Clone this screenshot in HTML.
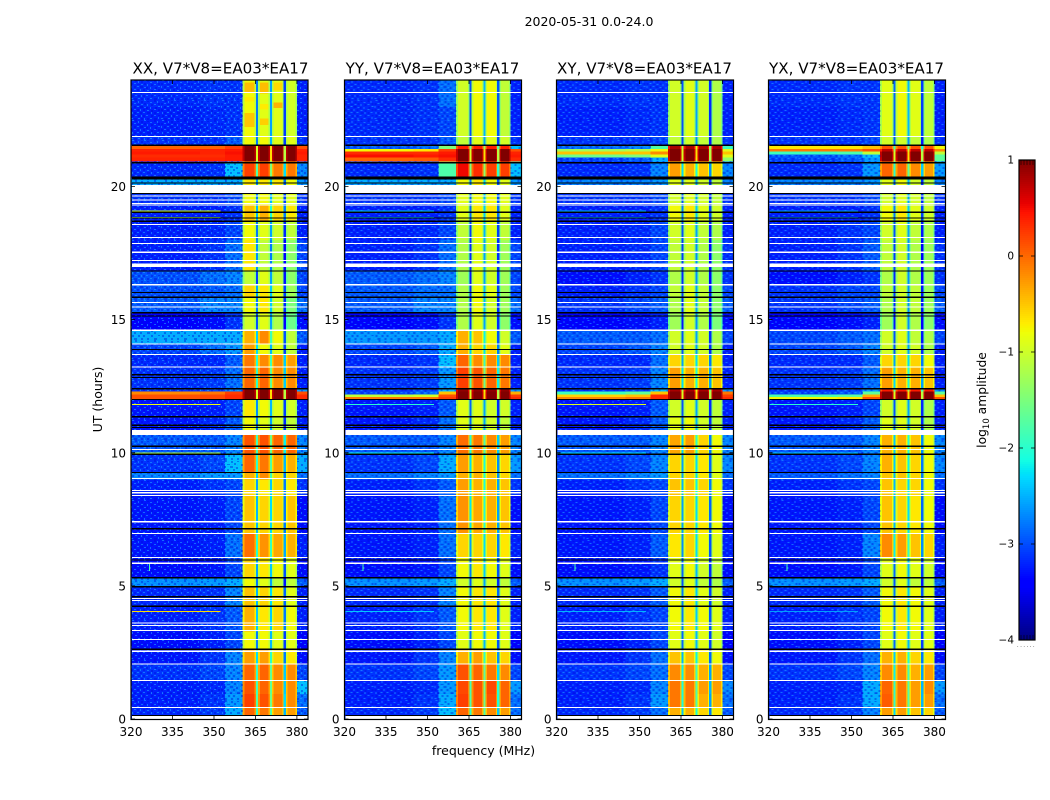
<!DOCTYPE html>
<html lang="en">
<head>
<meta charset="utf-8">
<title>2020-05-31 cross-power dynamic spectra</title>
<style>
  html, body { margin: 0; padding: 0; background: #fff; }
  svg { display: block; }
  text { font-family: "DejaVu Sans", "Liberation Sans", sans-serif; fill: #000; }
</style>
</head>
<body>
<svg id="figure" xmlns="http://www.w3.org/2000/svg" width="1050" height="800" viewBox="0 0 1050 800">
  <defs>
    <pattern id="speckle" width="30" height="20" patternUnits="userSpaceOnUse">
      <path fill="#20a0ff" opacity="0.6" d="M1 0h2v1h-2zM7 1h1v2h-1zM13 0h2v1h-2zM19 2h2v1h-2zM26 1h1v2h-1zM3 3h2v1h-2zM10 4h2v1h-2zM16 4h1v2h-1zM23 4h2v1h-2zM0 6h1v2h-1zM6 6h2v1h-2zM13 7h2v1h-2zM19 7h1v2h-1zM27 6h2v1h-2zM3 9h2v1h-2zM9 9h1v2h-1zM16 10h2v1h-2zM23 9h2v1h-2zM1 12h1v2h-1zM6 12h2v1h-2zM12 12h2v1h-2zM20 12h1v2h-1zM26 12h2v1h-2zM4 15h2v1h-2zM10 15h1v2h-1zM15 15h2v1h-2zM23 15h2v1h-2zM0 18h2v1h-2zM7 18h2v1h-2zM13 18h1v2h-1zM19 18h2v1h-2zM27 17h1v2h-1z"/>
      <path fill="#0008d8" opacity="0.4" d="M4 0h2v2h-2zM10 1h2v2h-2zM16 1h2v1h-2zM23 0h2v2h-2zM0 3h2v2h-2zM6 4h3v1h-3zM13 3h2v2h-2zM20 4h2v2h-2zM27 3h2v2h-2zM3 6h2v2h-2zM9 6h3v2h-3zM15 7h2v2h-2zM24 7h2v2h-2zM0 9h2v2h-2zM6 9h2v2h-2zM12 9h2v2h-2zM20 10h2v2h-2zM27 9h2v2h-2zM3 12h2v2h-2zM9 12h2v2h-2zM16 12h3v2h-3zM23 12h2v2h-2zM1 15h2v2h-2zM7 15h2v2h-2zM12 15h2v2h-2zM20 15h2v2h-2zM27 15h2v1h-2zM3 18h3v2h-3zM10 18h2v2h-2zM16 18h2v2h-2zM23 18h3v2h-3z"/>
    </pattern>
  </defs>
  <rect width="1050" height="800" fill="#fff"/>
  <text x="589" y="26" font-size="12.5" text-anchor="middle">2020-05-31 0.0-24.0</text>
  <g id="panels"></g>
  <text x="220.5" y="73.5" font-size="15.1" text-anchor="middle">XX, V7*V8=EA03*EA17</text>
  <text x="432.5" y="73.5" font-size="15.1" text-anchor="middle">YY, V7*V8=EA03*EA17</text>
  <text x="644.5" y="73.5" font-size="15.1" text-anchor="middle">XY, V7*V8=EA03*EA17</text>
  <text x="856.5" y="73.5" font-size="15.1" text-anchor="middle">YX, V7*V8=EA03*EA17</text>
  <text transform="translate(102,399.5) rotate(-90)" font-size="12.5" text-anchor="middle">UT (hours)</text>
  <text x="483.5" y="755" font-size="12.5" text-anchor="middle">frequency (MHz)</text>
  <g id="colorbar"></g>
  <text transform="translate(986,400) rotate(-90)" font-size="12.3" text-anchor="middle">log<tspan font-size="8.5" dy="3">10</tspan><tspan dy="-3"> amplitude</tspan></text>
  <text x="1017" y="647" font-size="5" letter-spacing="1.6" fill="#777">......</text>
</svg>
<script>
// Time bands (hours UT): consecutive edges, one row of levels per band.
const bandEdges = [0,0.45,0.95,1.45,2.07,2.6,3.3,4.24,4.97,5.31,6.07,7.0,8.4,9.0,9.26,10.0,10.7,11.35,12.0,12.1,12.2,12.32,12.41,13.2,13.7,14.09,14.6,15.26,15.84,16.31,16.83,18.0,18.7,19.3,19.74,20.3,20.89,20.95,21.1,21.22,21.33,21.42,21.55,21.88,23.0,24.0];

// log10 amplitude per band: [320-345, 345-354, 354-360, sideband 1, 2, 3, 4, 380-384 MHz]
const levelsXX = [
[-2.95,-2.85,-2.3,-0.1,-0.2,-0.4,-0.4,-2.7],[-3.0,-2.9,-2.4,0.1,0.0,-0.2,-0.3,-2.6],[-3.0,-2.95,-2.5,0.0,-0.1,-0.3,-0.3,-2.2],
[-2.9,-2.8,-2.5,-0.1,-0.1,-0.3,-0.3,-2.8],[-3.05,-2.9,-2.5,-0.4,-0.4,-0.7,-0.8,-3.1],[-3.1,-3.0,-2.8,-0.9,-0.9,-1.0,-1.0,-3.2],
[-3.0,-2.9,-2.7,-0.5,-0.8,-0.7,-0.9,-3.0],[-2.95,-2.9,-2.5,-0.6,-0.7,-0.8,-1.0,-3.0],[-2.45,-2.4,-2.3,-0.9,-1.0,-1.2,-1.2,-2.7],
[-3.1,-3.05,-2.8,-0.7,-0.8,-0.9,-1.0,-3.1],[-3.05,-3.0,-2.6,-0.15,-0.35,-0.45,-0.5,-3.0],[-3.05,-3.0,-2.8,-0.6,-0.7,-0.7,-0.6,-3.1],
[-3.0,-2.9,-2.8,-0.7,-0.8,-0.7,-0.8,-2.9],[-2.5,-2.4,-2.4,-0.5,-0.3,-0.7,-0.7,-2.6],[-2.9,-2.8,-2.2,-0.1,-0.2,-0.4,-0.5,-2.3],
[-2.7,-2.7,-2.5,0.0,0.0,-0.1,-0.1,-2.5],[-3.05,-2.95,-2.7,-0.9,-1.0,-1.1,-1.2,-3.0],[-3.05,-3.0,-2.8,-0.8,-0.9,-1.0,-1.1,-3.0],
[0.0,0.05,0.2,0.95,0.95,0.95,0.95,0.2],[0.0,0.05,0.2,0.95,0.95,0.95,0.95,0.2],[-0.3,-0.2,0.1,0.95,0.95,0.95,0.95,0.0],[-2.9,-2.8,-2.5,0.9,0.9,0.9,0.9,-2.4],
[-2.9,-2.85,-2.6,-0.1,-0.1,-0.3,-0.3,-3.0],[-2.95,-2.95,-2.7,-0.2,-0.3,-0.3,-0.4,-3.0],[-2.8,-2.6,-2.4,-0.4,-0.9,-1.0,-1.2,-3.0],
[-2.3,-2.3,-2.3,-0.5,-0.3,-0.9,-1.2,-2.7],[-3.2,-3.1,-2.9,-1.1,-1.0,-1.3,-1.7,-3.1],[-2.7,-2.5,-2.5,-0.9,-0.8,-1.1,-1.6,-2.6],
[-2.75,-2.7,-2.6,-0.7,-0.8,-1.0,-1.4,-2.8],[-2.75,-2.6,-2.5,-1.2,-1.0,-1.2,-1.5,-2.8],[-3.0,-2.9,-2.6,-0.8,-1.2,-1.3,-1.5,-2.8],
[-3.0,-2.95,-2.8,-0.9,-1.0,-1.1,-1.2,-3.0],[-3.0,-3.0,-2.9,-0.6,-0.5,-0.7,-0.8,-3.0],[-2.9,-2.9,-2.8,-0.9,-0.9,-1.0,-1.0,-2.9],
[-2.3,-2.3,-2.3,-0.8,-0.8,-0.8,-0.9,-2.4],[-2.95,-2.9,-2.2,0.1,0.1,-0.2,-0.2,-2.5],[-2.9,-2.8,-2.4,-0.4,-0.4,-0.4,-0.4,-2.5],
[0.25,0.25,0.3,0.95,0.95,0.95,0.95,0.25],[0.2,0.2,0.3,0.95,0.95,0.95,0.95,0.25],[0.3,0.25,0.35,0.95,0.95,0.95,0.95,0.3],[0.25,0.25,0.3,0.95,0.95,0.95,0.95,0.25],[-0.1,-0.1,0.1,0.95,0.95,0.95,0.95,0.0],
[-2.9,-2.9,-2.7,-0.9,-0.9,-1.0,-1.0,-2.9],[-3.0,-2.95,-2.9,-0.9,-1.0,-1.0,-1.1,-3.0],[-2.95,-2.9,-2.9,-0.9,-1.0,-1.0,-1.1,-3.0]];

const levelsYY = [
[-2.95,-2.85,-2.2,-0.1,-0.2,-0.3,-0.4,-2.6],[-3.0,-2.9,-2.3,0.1,0.0,0.0,-0.1,-2.6],[-3.0,-2.95,-2.4,0.05,0.0,0.05,-0.1,-2.4],
[-2.9,-2.8,-2.4,0.0,-0.1,-0.2,-0.3,-2.8],[-3.05,-2.9,-2.5,-0.5,-0.4,-0.6,-0.7,-3.1],[-3.1,-3.0,-2.8,-1.0,-0.9,-0.9,-1.0,-3.2],
[-3.0,-2.9,-2.7,-0.9,-0.8,-0.8,-1.0,-3.0],[-2.95,-2.9,-2.5,-0.9,-0.8,-0.8,-1.0,-3.0],[-2.45,-2.4,-2.3,-1.1,-1.0,-1.1,-1.2,-2.7],
[-3.1,-3.05,-2.8,-0.9,-0.8,-0.9,-1.0,-3.1],[-3.05,-3.0,-2.6,-0.7,-0.7,-0.7,-0.8,-3.0],[-3.05,-3.0,-2.6,-0.35,-0.45,-0.5,-0.6,-3.1],
[-3.0,-2.9,-2.7,-0.4,-0.5,-0.5,-0.6,-2.9],[-2.6,-2.5,-2.4,-0.5,-0.5,-0.6,-0.7,-2.6],[-2.9,-2.8,-2.3,-0.4,-0.5,-0.6,-0.7,-2.4],
[-2.7,-2.7,-2.5,-0.15,-0.2,-0.3,-0.4,-2.5],[-3.05,-2.95,-2.6,-1.0,-1.0,-1.1,-1.2,-3.0],[-3.05,-3.0,-2.7,-1.0,-1.0,-1.1,-1.1,-3.0],
[-0.2,-0.2,0.1,0.95,0.95,0.95,0.95,0.2],[-1.2,-1.1,0.0,0.95,0.95,0.95,0.95,0.1],[-2.8,-2.6,-0.6,0.95,0.95,0.95,0.95,-0.5],[-2.9,-2.8,-2.2,0.8,0.8,0.8,0.8,-2.4],
[-2.9,-2.85,-2.4,0.1,0.0,-0.1,-0.2,-3.0],[-2.95,-2.9,-2.2,-0.1,-0.3,-0.3,-0.3,-3.0],[-2.8,-2.7,-2.3,-0.5,-0.7,-0.7,-1.0,-3.0],
[-2.4,-2.4,-2.3,-0.5,-0.6,-0.9,-1.1,-2.7],[-3.2,-3.1,-2.9,-1.3,-1.0,-1.1,-1.5,-3.1],[-2.7,-2.5,-2.5,-1.3,-0.9,-1.1,-1.4,-2.6],
[-2.7,-2.6,-2.6,-1.3,-0.9,-1.0,-1.4,-2.8],[-2.7,-2.6,-2.5,-1.4,-1.0,-1.1,-1.4,-2.8],[-3.0,-2.9,-2.6,-1.3,-1.0,-1.1,-1.4,-2.8],
[-3.0,-2.95,-2.8,-1.2,-0.9,-1.0,-1.2,-3.0],[-3.0,-3.0,-2.9,-1.0,-0.8,-0.8,-1.0,-3.0],[-2.9,-2.9,-2.8,-1.0,-0.9,-0.9,-1.0,-2.9],
[-2.3,-2.3,-2.3,-0.9,-0.8,-0.9,-1.0,-2.4],[-2.95,-2.9,-1.9,0.4,0.2,0.1,0.1,-2.2],[-2.8,-2.7,-1.5,0.2,0.1,0.1,0.0,-2.0],
[-0.1,-0.05,0.2,0.95,0.95,0.95,0.95,0.2],[0.35,0.3,0.35,0.95,0.95,0.95,0.95,0.3],[0.2,0.2,0.3,0.95,0.95,0.95,0.95,0.25],[-0.9,-0.8,0.1,0.95,0.95,0.95,0.95,0.0],[-2.7,-2.6,-1.6,0.3,0.3,0.3,0.3,-2.2],
[-2.9,-2.9,-2.7,-1.2,-1.0,-1.0,-1.1,-2.9],[-2.95,-2.9,-2.8,-1.1,-0.9,-0.9,-1.2,-3.0],[-2.95,-2.9,-2.6,-1.1,-0.9,-0.9,-1.2,-3.0]];

const levelsXY = [
[-2.95,-2.85,-2.6,-0.5,-0.5,-0.7,-0.8,-2.7],[-3.0,-2.9,-2.4,-0.2,-0.2,-0.5,-0.5,-2.6],[-3.0,-2.95,-2.5,-0.2,-0.2,-0.4,-0.4,-2.5],
[-2.9,-2.8,-2.6,-0.3,-0.3,-0.5,-0.5,-2.8],[-3.05,-2.9,-2.6,-0.6,-0.6,-0.8,-0.9,-3.1],[-3.1,-3.0,-2.8,-1.0,-0.9,-1.0,-1.1,-3.2],
[-3.0,-2.9,-2.8,-0.9,-0.8,-0.9,-1.0,-3.0],[-2.95,-2.9,-2.7,-0.9,-0.8,-1.0,-1.1,-3.0],[-2.45,-2.4,-2.3,-1.1,-1.0,-1.2,-1.3,-2.7],
[-3.1,-3.05,-2.9,-1.0,-0.9,-1.1,-1.2,-3.1],[-3.05,-3.0,-2.7,-0.8,-0.7,-0.9,-1.0,-3.0],[-3.05,-3.0,-2.8,-0.7,-0.7,-0.8,-0.9,-3.1],
[-3.0,-2.9,-2.8,-0.6,-0.6,-0.7,-0.9,-2.9],[-2.6,-2.5,-2.4,-0.7,-0.7,-0.8,-1.0,-2.6],[-2.9,-2.8,-2.5,-0.7,-0.7,-0.8,-1.0,-2.5],
[-2.7,-2.7,-2.5,-0.45,-0.4,-0.7,-0.9,-2.5],[-3.05,-2.95,-2.7,-1.0,-0.9,-1.1,-1.2,-3.0],[-3.05,-3.0,-2.7,-1.1,-1.0,-1.1,-1.2,-3.0],
[-0.3,-0.2,0.2,0.95,0.95,0.95,0.95,0.2],[-0.7,-0.6,0.2,0.95,0.95,0.95,0.95,0.1],[-2.0,-1.8,-0.6,0.95,0.95,0.95,0.95,-0.2],[-2.9,-2.8,-2.2,0.7,0.7,0.7,0.7,-2.4],
[-2.9,-2.85,-2.5,-0.4,-0.5,-0.5,-0.6,-3.0],[-2.95,-2.95,-2.6,-0.7,-0.7,-0.7,-0.8,-3.0],[-2.8,-2.7,-2.5,-1.1,-1.0,-1.1,-1.3,-3.0],
[-2.7,-2.7,-2.6,-1.1,-1.0,-1.1,-1.3,-2.8],[-3.2,-3.1,-3.0,-1.4,-1.1,-1.3,-1.6,-3.1],[-2.9,-2.8,-2.7,-1.3,-1.0,-1.2,-1.5,-2.7],
[-3.0,-2.9,-2.8,-1.2,-1.0,-1.2,-1.5,-2.8],[-3.1,-3.0,-2.9,-1.3,-1.1,-1.3,-1.5,-2.9],[-3.0,-2.95,-2.8,-1.2,-1.1,-1.3,-1.5,-2.9],
[-3.0,-2.95,-2.8,-1.1,-1.0,-1.2,-1.3,-3.0],[-3.0,-3.0,-2.9,-0.9,-0.8,-1.0,-1.1,-3.0],[-2.9,-2.9,-2.8,-1.1,-1.0,-1.1,-1.2,-2.9],
[-2.5,-2.5,-2.4,-1.0,-1.0,-1.1,-1.2,-2.5],[-2.95,-2.9,-2.5,-0.4,-0.5,-0.6,-0.7,-2.5],[-2.9,-2.8,-2.4,-0.7,-0.7,-0.7,-0.7,-2.5],
[-2.8,-2.7,-2.3,0.9,0.9,0.9,0.9,-1.5],[-1.7,-1.6,-1.0,0.95,0.95,0.95,0.95,-1.0],[-0.6,-0.6,-0.3,0.95,0.95,0.95,0.95,-0.6],[-1.4,-1.3,-0.9,0.95,0.95,0.95,0.95,-1.0],[-2.6,-2.5,-1.9,0.7,0.7,0.7,0.7,-2.0],
[-2.9,-2.9,-2.8,-1.2,-1.1,-1.2,-1.3,-2.9],[-3.0,-2.95,-2.9,-1.1,-1.0,-1.1,-1.3,-3.0],[-2.95,-2.9,-2.9,-1.1,-1.0,-1.1,-1.3,-3.0]];

const levelsYX = [
[-2.95,-2.85,-2.5,-0.4,-0.4,-0.6,-0.7,-2.7],[-3.0,-2.9,-2.3,-0.05,-0.2,-0.4,-0.4,-2.6],[-3.0,-2.95,-2.3,-0.1,-0.2,-0.4,-0.3,-2.4],
[-2.9,-2.8,-2.5,-0.3,-0.3,-0.5,-0.4,-2.8],[-3.05,-2.9,-2.6,-0.5,-0.5,-0.7,-0.8,-3.1],[-3.1,-3.0,-2.8,-1.0,-0.9,-1.0,-1.0,-3.2],
[-3.0,-2.9,-2.8,-0.9,-0.8,-0.9,-1.0,-3.0],[-2.95,-2.9,-2.7,-0.9,-0.8,-0.9,-1.0,-3.0],[-2.45,-2.4,-2.3,-1.1,-1.0,-1.2,-1.2,-2.7],
[-3.1,-3.05,-2.8,-1.0,-0.9,-1.0,-1.1,-3.1],[-3.05,-3.0,-2.5,-0.3,-0.4,-0.6,-0.7,-3.0],[-3.05,-3.0,-2.8,-0.6,-0.7,-0.8,-0.9,-3.1],
[-3.0,-2.9,-2.8,-0.6,-0.7,-0.7,-0.9,-2.9],[-2.7,-2.6,-2.5,-0.6,-0.6,-0.7,-0.9,-2.6],[-2.9,-2.8,-2.5,-0.5,-0.6,-0.7,-0.9,-2.5],
[-2.7,-2.7,-2.5,-0.5,-0.5,-0.6,-0.9,-2.5],[-3.05,-2.95,-2.7,-1.0,-1.0,-1.1,-1.3,-3.0],[-3.05,-3.0,-2.8,-1.1,-1.0,-1.1,-1.3,-3.0],
[-0.9,-0.8,0.0,0.95,0.95,0.95,0.95,0.0],[-1.9,-1.8,-0.5,0.95,0.95,0.95,0.95,-0.6],[-2.8,-2.7,-1.8,0.95,0.95,0.95,0.95,-1.8],[-2.9,-2.8,-2.4,0.3,0.3,0.3,0.3,-2.5],
[-2.9,-2.85,-2.6,-0.4,-0.5,-0.5,-0.6,-3.0],[-2.95,-2.95,-2.7,-0.7,-0.7,-0.7,-0.9,-3.0],[-2.8,-2.7,-2.5,-1.1,-1.0,-1.1,-1.3,-3.0],
[-2.8,-2.7,-2.6,-1.1,-1.0,-1.2,-1.3,-2.8],[-3.2,-3.1,-3.0,-1.4,-1.1,-1.3,-1.5,-3.1],[-2.9,-2.8,-2.7,-1.3,-1.1,-1.2,-1.4,-2.7],
[-2.9,-2.8,-2.8,-1.2,-1.1,-1.2,-1.4,-2.8],[-3.1,-3.0,-2.9,-1.3,-1.1,-1.3,-1.4,-2.9],[-3.0,-2.9,-2.7,-1.2,-1.1,-1.3,-1.4,-2.9],
[-3.0,-2.9,-2.8,-1.1,-1.0,-1.2,-1.3,-3.0],[-3.0,-3.0,-2.9,-0.9,-0.8,-1.0,-1.1,-3.0],[-2.9,-2.9,-2.8,-1.1,-1.0,-1.1,-1.2,-2.9],
[-2.5,-2.5,-2.4,-1.0,-0.9,-1.1,-1.2,-2.5],[-2.95,-2.9,-2.4,-0.1,-0.1,-0.3,-0.4,-2.4],[-2.9,-2.8,-2.4,-0.2,-0.3,-0.4,-0.5,-2.5],
[-2.8,-2.7,-2.4,0.9,0.9,0.9,0.9,-1.8],[-2.7,-2.6,-2.2,0.95,0.95,0.95,0.95,-1.8],[-2.0,-1.9,-1.2,0.95,0.95,0.95,0.95,-1.2],[-0.2,-0.2,0.0,0.6,0.6,0.6,0.6,-0.3],[-0.8,-0.8,-0.6,0.0,0.0,0.0,0.0,-0.9],
[-2.9,-2.9,-2.8,-1.1,-1.1,-1.2,-1.3,-2.9],[-3.0,-2.95,-2.9,-1.0,-0.9,-1.0,-1.2,-3.0],[-2.95,-2.9,-2.9,-1.0,-0.9,-1.0,-1.2,-3.0]];

// Frequency channels (MHz), which band column each reads, and that channel's roll-off from the column level.
const channelEdges = [320,345,354,360.4,361,364.6,365.2,366,366.6,369.7,370.2,371,371.6,374.7,375.2,376,376.6,379.4,380,384];
const channelColumn = [0,1,2,3,3,3,3,4,4,4,4,5,5,5,5,6,6,6,7];
const channelRolloff = [0,0,0,-0.35,0,-0.35,-2.0,-0.35,0,-0.35,-1.7,-0.35,0,-0.35,-2.2,-0.3,0,-0.3,0];

const patchSideband = [0,1,2,0,1,2,0,1];
const patchFrom = [23.55,23.5,23.6,23.2,22.9,22.95,22.23,22.3];
const patchTo = [23.9,23.9,23.9,23.36,23.1,23.16,22.76,22.56];
const patchLevel = [-0.45,-0.45,-0.6,-0.7,-0.7,-0.4,-0.5,-0.55];
const sidebandFrom = [361,366.6,371.6,376.6];
const sidebandTo = [364.6,369.7,374.7,379.4];

// Flagged integrations (hours UT): white = no data, black = zeroed.
const whiteStart = [0.0,0.42,1.42,2.05,2.52,2.97,3.3,3.49,3.58,4.43,4.5,5.83,6.05,6.95,7.39,8.38,8.48,8.57,9.02,10.11,10.66,13.2,13.67,14.07,14.58,15.45,15.63,16.29,16.97,17.2,17.51,17.84,18.07,18.55,19.28,19.34,19.48,19.63,19.76,21.86,23.51];
const whiteEnd   = [0.12,0.46,1.46,2.09,2.58,3.01,3.34,3.53,3.62,4.47,4.54,5.87,6.09,6.99,7.43,8.42,8.52,8.61,9.06,10.15,10.85,13.24,13.71,14.11,14.62,15.49,15.67,16.33,17.1,17.24,17.55,17.88,18.11,18.59,19.32,19.38,19.52,19.67,20.05,21.9,23.55];
const blackHours = [0.13,2.62,4.24,4.59,4.97,5.31,5.97,7.15,9.26,9.95,10.25,10.95,11.04,11.35,12.0,12.41,12.83,12.93,13.88,15.14,15.26,15.84,16.02,16.83,18.7,18.82,19.04,19.74,20.13,20.29,20.35,20.89,21.55];
const thickBlack = [20.32];

// Narrow spectral-line interference: hour, and level across 320-352 MHz for XX, YY, XY, YX.
const rfiHours = [4.05,10.01,11.83,18.85,19.1];
const rfiXX = [-0.6,-1.2,-0.8,-1.3,-1.0];
const rfiYY = [-2.4,-2.2,-2.0,-2.4,-2.4];
const rfiXY = [-2.5,-2.3,-0.9,-2.5,-2.5];
const rfiYX = [-2.6,-2.4,-2.0,-2.6,-2.6];

// Short vertical spur seen in every panel.
const spurFreq = [326.5];
const spurFrom = [5.55];
const spurTo = [5.88];
const spurLevel = [-1.8];

const panelLevels = [levelsXX, levelsYY, levelsXY, levelsYX];
const panelRfi = [rfiXX, rfiYY, rfiXY, rfiYX];
const panelNames = ['xx', 'yy', 'xy', 'yx'];
const panelOrigins = [131, 344.5, 556.5, 768.5];
const noiseColumns = [0, 1, 2, 7];

const freqTicks = ['320','335','350','365','380'];
const hourTicks = ['0','5','10','15','20'];
const cbarTicks = ['1','0','−1','−2','−3','−4'];
const cbarValues = [1,0,-1,-2,-3,-4];

const NS = 'http://www.w3.org/2000/svg';
const FREQ_MIN = 320, FREQ_MAX = 384, HOUR_MAX = 24;
const PLOT_W = 177, PLOT_TOP = 80, PLOT_BOTTOM = 719;
const CB = {x: 1019, w: 16, top: 160, bottom: 640, min: -4, max: 1};
const NOISE_FLOOR_SHIFT = -0.22, SIGNAL_LIFT = 0.12;

function xAxis(f) { return (f - FREQ_MIN) / (FREQ_MAX - FREQ_MIN) * PLOT_W; }
function yAxis(h) { return PLOT_BOTTOM - h / HOUR_MAX * (PLOT_BOTTOM - PLOT_TOP); }
function cbarAxis(v) { return CB.bottom - (v - CB.min) / (CB.max - CB.min) * (CB.bottom - CB.top); }
function adjust(v) { return v < -2 ? v + NOISE_FLOOR_SHIFT : v + SIGNAL_LIFT; }

function seg(t, pts) {
  for (let i = 1; i < pts.length; i++) {
    if (t <= pts[i][0]) {
      const a = pts[i - 1], b = pts[i];
      return a[1] + (b[1] - a[1]) * (t - a[0]) / (b[0] - a[0]);
    }
  }
  return pts[pts.length - 1][1];
}
function jet(v) {
  const t = Math.max(0, Math.min(1, (v - CB.min) / (CB.max - CB.min)));
  const r = seg(t, [[0,0],[0.35,0],[0.66,1],[0.89,1],[1,0.5]]);
  const g = seg(t, [[0,0],[0.125,0],[0.375,1],[0.64,1],[0.91,0],[1,0]]);
  const b = seg(t, [[0,0.5],[0.11,1],[0.34,1],[0.65,0],[1,0]]);
  return 'rgb(' + Math.round(r * 255) + ',' + Math.round(g * 255) + ',' + Math.round(b * 255) + ')';
}
function svgEl(tag, attrs, parent) {
  const el = document.createElementNS(NS, tag);
  for (const k in attrs) el.setAttribute(k, attrs[k]);
  parent.appendChild(el);
  return el;
}

const panelsRoot = document.getElementById('panels');
panelOrigins.forEach(function (ox, p) {
  const g = svgEl('g', {transform: 'translate(' + ox + ',0)'}, panelsRoot);
  
  

  const cells = svgEl('g', {'shape-rendering': 'crispEdges'}, g);
  
  
  const texture = svgEl('g', {'shape-rendering': 'crispEdges'}, g);
  
  
  const levels = panelLevels[p];
  for (let b = 0; b < levels.length; b++) {
    const y1 = yAxis(bandEdges[b + 1]), y0 = yAxis(bandEdges[b]);
    for (let c = 0; c < channelColumn.length; c++) {
      const x0 = xAxis(channelEdges[c]), x1 = xAxis(channelEdges[c + 1]);
      const level = levels[b][channelColumn[c]];
      const v = adjust(level) + channelRolloff[c];
      const attrs = {x: x0.toFixed(2), y: y1.toFixed(2), width: (x1 - x0 + 0.3).toFixed(2), height: (y0 - y1 + 0.3).toFixed(2)};
      const cell = svgEl('rect', attrs, cells);
      cell.setAttribute('fill', jet(v));
      
      
      if (noiseColumns.indexOf(channelColumn[c]) >= 0 && level < -2) {
        const noise = svgEl('rect', attrs, texture);
        noise.setAttribute('fill', 'url(#speckle)');
        
        
      }
    }
  }

  if (p === 0) {
    patchSideband.forEach(function (s, i) {
      const top = yAxis(patchTo[i]), bot = yAxis(patchFrom[i]);
      const x0 = xAxis(sidebandFrom[s]), x1 = xAxis(sidebandTo[s]);
      const patch = svgEl('rect', {x: x0.toFixed(1), y: top.toFixed(1), width: (x1 - x0).toFixed(1), height: (bot - top).toFixed(1), fill: jet(patchLevel[i])}, cells);
      
      
    });
  }

  rfiHours.forEach(function (h, i) {
    const line = svgEl('rect', {x: 1, y: yAxis(h).toFixed(1), width: xAxis(352), height: 1, fill: jet(panelRfi[p][i]), 'shape-rendering': 'crispEdges'}, g);
    
    
  });
  spurFreq.forEach(function (f, i) {
    const top = yAxis(spurTo[i]), bot = yAxis(spurFrom[i]);
    const spur = svgEl('rect', {x: xAxis(f).toFixed(1), y: top.toFixed(1), width: 1, height: (bot - top).toFixed(1), fill: jet(spurLevel[i]), 'shape-rendering': 'crispEdges'}, g);
    
    
  });

  const flags = svgEl('g', {'shape-rendering': 'crispEdges'}, g);
  
  
  whiteStart.forEach(function (h, i) {
    const top = yAxis(whiteEnd[i]), bot = yAxis(h);
    const r = svgEl('rect', {x: 1, y: top.toFixed(1), width: PLOT_W - 1, height: Math.max(1, bot - top).toFixed(1), fill: '#fff'}, flags);
    
    
  });
  blackHours.forEach(function (h) {
    const r = svgEl('rect', {x: 1, y: (yAxis(h) - 0.6).toFixed(1), width: PLOT_W - 1, height: 1.3, fill: '#000'}, flags);
    
    
  });
  thickBlack.forEach(function (h) {
    const r = svgEl('rect', {x: 1, y: (yAxis(h) - 1).toFixed(1), width: PLOT_W - 1, height: 2, fill: '#000'}, flags);
    
    
  });

  const frame = svgEl('rect', {x: 0, y: PLOT_TOP, width: PLOT_W, height: PLOT_BOTTOM - PLOT_TOP + 0.5, fill: 'none', stroke: '#000', 'stroke-width': 1.2}, g);
  
  

  freqTicks.forEach(function (t) {
    const x = xAxis(+t);
    const tick = svgEl('path', {d: 'M' + x.toFixed(1) + ' ' + PLOT_BOTTOM + 'v-4M' + x.toFixed(1) + ' ' + PLOT_TOP + 'v4', stroke: '#000', 'stroke-width': 0.8}, g);
    
    
    const label = svgEl('text', {x: x.toFixed(1), y: 736, 'font-size': 12, 'text-anchor': 'middle'}, g);
    label.textContent = t;
    
    
  });
  hourTicks.forEach(function (t) {
    const y = yAxis(+t);
    const tick = svgEl('path', {d: 'M0 ' + y.toFixed(1) + 'h4M' + PLOT_W + ' ' + y.toFixed(1) + 'h-4', stroke: '#000', 'stroke-width': 0.8}, g);
    
    
    const label = svgEl('text', {x: -5, y: (y + 4.5).toFixed(1), 'font-size': 12, 'text-anchor': 'end'}, g);
    label.textContent = t;
    
    
  });
});

// Colorbar
const cbRoot = document.getElementById('colorbar');
const cbCells = svgEl('g', {'shape-rendering': 'crispEdges'}, cbRoot);


for (let y = CB.top; y < CB.bottom; y += 2) {
  const v = CB.max - (y + 1 - CB.top) / (CB.bottom - CB.top) * (CB.max - CB.min);
  const s = svgEl('rect', {x: CB.x, y: y, width: CB.w, height: 2, fill: jet(v)}, cbCells);
  
  
}
const cbFrame = svgEl('rect', {x: CB.x, y: CB.top, width: CB.w, height: CB.bottom - CB.top, fill: 'none', stroke: '#000', 'stroke-width': 1.2}, cbRoot);


cbarValues.forEach(function (v, i) {
  const y = cbarAxis(v);
  const tick = svgEl('path', {d: 'M' + CB.x + ' ' + y + 'h4M' + (CB.x + CB.w) + ' ' + y + 'h-4', stroke: '#000', 'stroke-width': 0.8}, cbRoot);
  
  
  const label = svgEl('text', {x: CB.x - 5, y: y + 3.5, 'font-size': 10.5, 'text-anchor': 'end'}, cbRoot);
  label.textContent = cbarTicks[i];
  
  
});
[0, 3, 6, 9, 12].forEach(function (dx) {
  const top = svgEl('path', {d: 'M' + (CB.x + 2 + dx) + ' ' + CB.top + 'v5M' + (CB.x + 2 + dx) + ' ' + CB.bottom + 'v-5', stroke: '#000', 'stroke-width': 0.7, opacity: 0.8}, cbRoot);
  
  
});
</script>
</body>
</html>
